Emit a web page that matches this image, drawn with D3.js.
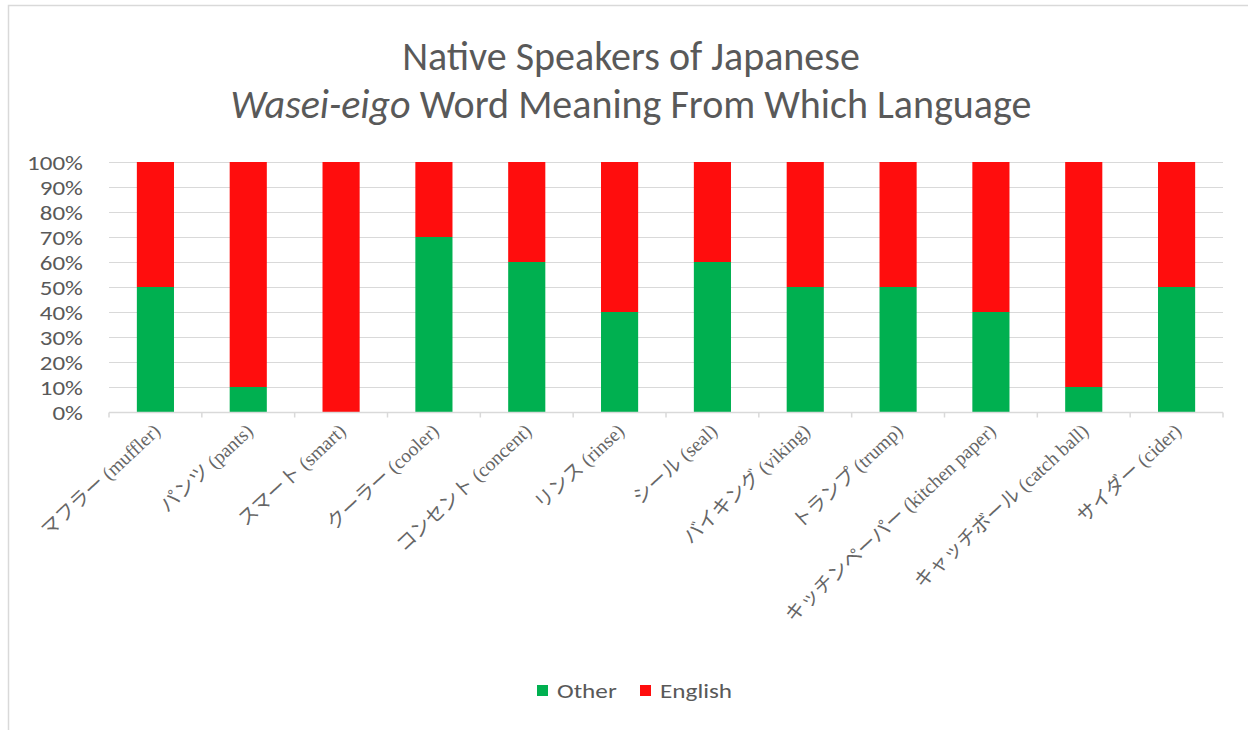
<!DOCTYPE html>
<html><head><meta charset="utf-8">
<script src="https://cdn.jsdelivr.net/npm/d3@7"></script>
<style>body{margin:0;background:#fff}svg{display:block}</style>
</head><body>
<script>
const categories = ["マフラー (muffler)","パンツ (pants)","スマート (smart)","クーラー (cooler)","コンセント (concent)","リンス (rinse)","シール (seal)","バイキング (viking)","トランプ (trump)","キッチンペーパー (kitchen paper)","キャッチボール (catch ball)","サイダー (cider)"];
const otherValues = [50,10,0,70,60,40,60,50,50,40,10,50];
const englishValues = [50,90,100,30,40,60,40,50,50,60,90,50];
const seriesNames = ["Other","English"];
const seriesColors = ["#00B050","#FF0D0D"];
const yTicks = [0,10,20,30,40,50,60,70,80,90,100];

const W=1248,H=730;
const svg=d3.select("body").append("svg").attr("width",W).attr("height",H);
svg.append("rect").attr("x",8.5).attr("y",5.5).attr("width",1300).attr("height",800)
  .attr("fill","#fff").attr("stroke","#d9d9d9").attr("stroke-width",1.5);

const sans="Calibri, Carlito, 'Open Sans', sans-serif";
const serif="'Liberation Serif','Noto Sans CJK JP',serif";
const grey="#595959";

// title
const t=svg.append("text").attr("text-anchor","middle").attr("fill",grey)
  .style("font-family",sans).style("font-size","40px");
t.append("tspan").attr("x",631).attr("y",70).text("Native Speakers of Japanese");
const t2=t.append("tspan").attr("x",631).attr("y",118);
t2.append("tspan").style("font-style","italic").text("Wasei-eigo");
t2.append("tspan").text(" Word Meaning From Which Language");

const x=d3.scaleBand().domain(categories).range([109,1223]).paddingInner(0.6).paddingOuter(0.3);
const xb=d3.scaleBand().domain(categories).range([109,1223]);
const y=d3.scaleLinear().domain([0,100]).range([412,162]);

// gridlines
svg.append("g").selectAll("line").data(yTicks.filter(d=>d>0)).join("line")
  .attr("x1",109).attr("x2",1223).attr("y1",d=>y(d)+0.5).attr("y2",d=>y(d)+0.5)
  .attr("stroke","#d9d9d9").attr("stroke-width",1);

// y axis labels (horizontally widened like the reference)
const ya=svg.append("g").attr("transform","translate(109,0)")
  .call(d3.axisLeft(y).tickValues(yTicks).tickFormat(d=>d+"%").tickSize(0).tickPadding(0));
ya.select(".domain").remove();
ya.selectAll("text").attr("x",0).attr("dy",null).attr("y",7)
  .attr("transform","translate(-26,0) scale(1.22,1)")
  .attr("fill",grey).style("font-family",sans).style("font-size","20.5px");

// stacks
const rows=categories.map((c,i)=>({cat:c,Other:otherValues[i],English:englishValues[i]}));
const stack=d3.stack().keys(seriesNames)(rows);
svg.append("g").selectAll("g").data(stack).join("g").attr("fill",(d,i)=>seriesColors[i])
  .selectAll("rect").data(d=>d).join("rect")
  .attr("x",d=>x(d.data.cat)).attr("width",x.bandwidth())
  .attr("y",d=>y(d[1])).attr("height",d=>y(d[0])-y(d[1]));

// x axis
const xa=svg.append("g").attr("transform","translate(0,412.5)");
xa.append("line").attr("x1",109).attr("x2",1223).attr("stroke","#d9d9d9").attr("stroke-width",1.5);
const bounds=categories.map(c=>xb(c)).concat([1223]);
xa.selectAll("line.tk").data(bounds).join("line").attr("class","tk")
  .attr("x1",d=>d).attr("x2",d=>d).attr("y1",0).attr("y2",5).attr("stroke","#d9d9d9").attr("stroke-width",1.5);
xa.selectAll("text").data(categories).join("text")
  .attr("transform",d=>`translate(${xb(d)+xb.bandwidth()/2+6},${20}) rotate(-43)`)
  .attr("text-anchor","end").attr("fill","#666")
  .style("font-family",serif).style("font-size","19.5px").text(d=>d);

// legend
const lg=svg.append("g");
const items=[{n:"Other",c:seriesColors[0],x:537},{n:"English",c:seriesColors[1],x:640}];
lg.selectAll("rect").data(items).join("rect").attr("x",d=>d.x).attr("y",685).attr("width",11).attr("height",11).attr("fill",d=>d.c);
lg.selectAll("text").data(items).join("text")
  .attr("transform",d=>`translate(${d.x+20},698) scale(1.2,1)`)
  .attr("fill",grey).style("font-family",sans).style("font-size","21px").text(d=>d.n);
</script>
</body></html>
